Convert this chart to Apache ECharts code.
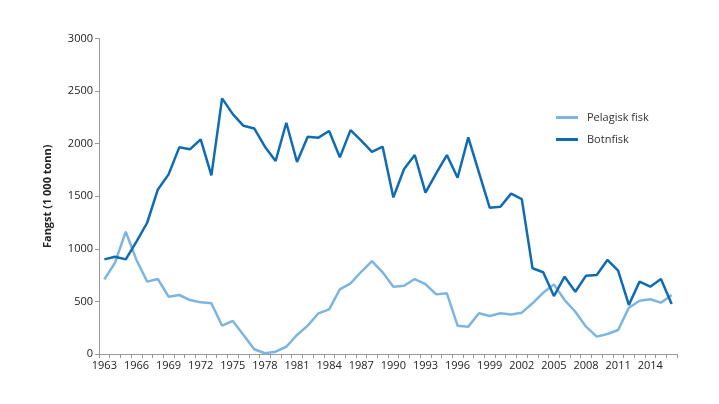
<!DOCTYPE html>
<html>
<head>
<meta charset="utf-8">
<script src="https://cdn.jsdelivr.net/npm/echarts@6/dist/echarts.min.js"></script>
<style>
  html, body { margin: 0; padding: 0; background: #fff; }
  #chart { width: 719px; height: 404px; }
</style>
</head>
<body>
<div id="chart"></div>
<script>
// years 1963-2016
const years = [];
for (let y = 1963; y <= 2016; y++) years.push(String(y));

// Fangst, 1 000 tonn
const pelagisk = [
  710, 868, 1163, 894, 688, 713, 545, 561, 513, 491,
  482, 269, 314, 181, 45, 7, 22, 69, 181, 270,
  387, 425, 615, 672, 782, 884, 777, 640, 649, 713,
  665, 567, 577, 269, 260, 387, 361, 387, 375, 393,
  482, 583, 662, 513, 402, 260, 165, 190, 228, 440,
  507, 520, 488, 561
];
const botnfisk = [
  900, 925, 900, 1068, 1248, 1565, 1708, 1965, 1946, 2041,
  1699, 2431, 2281, 2170, 2145, 1971, 1835, 2199, 1826, 2066,
  2057, 2120, 1870, 2129, 2028, 1923, 1971, 1489, 1759, 1892,
  1534, 1718, 1892, 1676, 2060, 1724, 1391, 1400, 1525, 1473,
  815, 777, 551, 735, 592, 745, 751, 894, 792, 466,
  688, 640, 713, 475
];

const yTicks = [0, 500, 1000, 1500, 2000, 2500, 3000];

const font = { fontFamily: 'Open Sans', fontSize: 11, color: '#222' };

const chart = echarts.init(document.getElementById('chart'));

const option = {
  animation: false,
  grid: { left: 99, right: 42, top: 38.5, bottom: 50 },
  legend: {
    orient: 'vertical',
    left: 551,
    top: 107,
    itemWidth: 22,
    itemHeight: 3,
    itemGap: 11,
    icon: 'rect',
    textStyle: { ...font, color: '#333', padding: [0, 0, 0, 4] },
    data: ['Pelagisk fisk', 'Botnfisk']
  },
  xAxis: {
    type: 'category',
    data: years,
    boundaryGap: true,
    axisLine: { lineStyle: { color: '#9a9a9a', width: 1 } },
    axisTick: { show: true, interval: 0, length: 4, lineStyle: { color: '#9a9a9a' } },
    axisLabel: {
      ...font,
      margin: 6,
      interval: (i) => i % 3 === 0
    },
    splitLine: { show: false }
  },
  yAxis: {
    type: 'value',
    min: yTicks[0],
    max: yTicks[yTicks.length - 1],
    interval: 500,
    name: 'Fangst (1 000 tonn)',
    nameLocation: 'middle',
    nameGap: 46,
    nameTextStyle: { fontFamily: 'Open Sans', fontSize: 11, fontWeight: 'bold', color: '#222' },
    axisLine: { show: true, lineStyle: { color: '#9a9a9a', width: 1 } },
    axisTick: { show: true, length: 4, lineStyle: { color: '#9a9a9a' } },
    axisLabel: { ...font, margin: 6, formatter: v => String(v) },
    splitLine: { show: false }
  },
  series: [
    {
      name: 'Pelagisk fisk',
      type: 'line',
      data: pelagisk,
      symbol: 'none',
      lineStyle: { color: '#7db5e2', width: 2.5 },
      itemStyle: { color: '#7db5e2' }
    },
    {
      name: 'Botnfisk',
      type: 'line',
      data: botnfisk,
      symbol: 'none',
      lineStyle: { color: '#0f6cb3', width: 2.5 },
      itemStyle: { color: '#0f6cb3' }
    }
  ]
};

chart.setOption(option);
</script>
</body>
</html>
